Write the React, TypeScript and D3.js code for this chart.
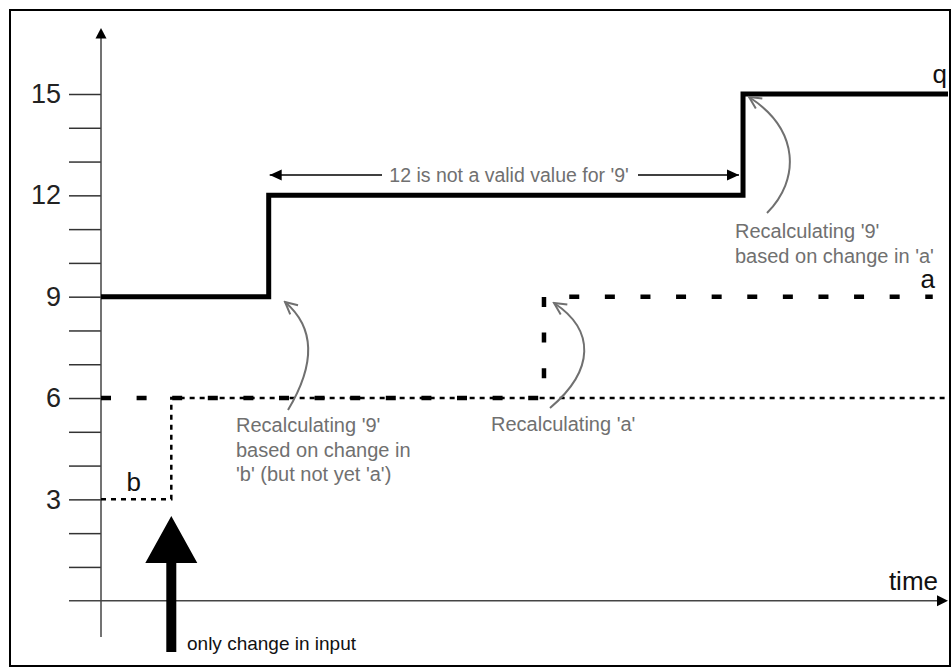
import React, { useEffect, useRef } from "react";
import * as d3 from "d3";

// ---- data ----
const qTimes = [0, 19.8, 75.8, 100];
const qValues = [9, 12, 15, 15];
const aTimes = [0, 52.3, 98.2];
const aValues = [6, 9, 9];
const bTimes = [0, 8.3, 99.6];
const bValues = [3, 6, 6];
const yTickValues = d3.range(1, 16);
const yLabelValues = [3, 6, 9, 12, 15];
const inputChangeTime = 8.3;

const W = 952;
const H = 668;

export default function App() {
  const ref = useRef<SVGSVGElement | null>(null);

  useEffect(() => {
    const svg = d3.select(ref.current);
    svg.selectAll("*").remove();

    const x = d3.scaleLinear().domain([0, 100]).range([101, 948]);
    const y = d3.scaleLinear().domain([0, 15]).range([600.7, 94]);

    const defs = svg.append("defs");
    defs
      .append("marker")
      .attr("id", "chev")
      .attr("viewBox", "-14 -8 16 16")
      .attr("refX", 0)
      .attr("refY", 0)
      .attr("markerWidth", 16)
      .attr("markerHeight", 16)
      .attr("markerUnits", "userSpaceOnUse")
      .attr("orient", "auto")
      .append("path")
      .attr("d", "M-12,-6 L0,0 L-12,6")
      .attr("fill", "none")
      .attr("stroke", "#707070")
      .attr("stroke-width", 2);
    defs
      .append("marker")
      .attr("id", "tri")
      .attr("viewBox", "-13 -6 14 12")
      .attr("refX", 0)
      .attr("refY", 0)
      .attr("markerWidth", 14)
      .attr("markerHeight", 12)
      .attr("markerUnits", "userSpaceOnUse")
      .attr("orient", "auto-start-reverse")
      .append("path")
      .attr("d", "M-12,-5.5 L0,0 L-12,5.5 Z")
      .attr("fill", "#000");

    // border
    svg
      .append("rect")
      .attr("x", 10)
      .attr("y", 10)
      .attr("width", 940)
      .attr("height", 656)
      .attr("fill", "none")
      .attr("stroke", "#000")
      .attr("stroke-width", 2);

    // y axis ticks
    const yAxis = d3
      .axisLeft(y)
      .tickValues(yTickValues)
      .tickSize(32)
      .tickPadding(8)
      .tickFormat((d) => (yLabelValues.includes(d as number) ? String(d) : ""));
    const gy = svg.append("g").attr("transform", `translate(${x(0)},0)`).call(yAxis);
    gy.select(".domain").remove();
    gy.selectAll(".tick line").attr("stroke", "#333").attr("stroke-width", 1.5);
    gy.selectAll(".tick text")
      .attr("font-family", "Liberation Sans, Arial, sans-serif")
      .attr("font-size", 27)
      .attr("fill", "#222");

    // y axis line + arrow
    svg
      .append("line")
      .attr("x1", x(0))
      .attr("x2", x(0))
      .attr("y1", 637)
      .attr("y2", 36)
      .attr("stroke", "#444")
      .attr("stroke-width", 1.5);
    svg
      .append("path")
      .attr("d", `M${x(0)},28 L${x(0) - 5.5},38.5 L${x(0) + 5.5},38.5 Z`)
      .attr("fill", "#000");

    // x axis line + arrow
    svg
      .append("line")
      .attr("x1", 69)
      .attr("x2", 940)
      .attr("y1", y(0))
      .attr("y2", y(0))
      .attr("stroke", "#444")
      .attr("stroke-width", 1.5);
    svg
      .append("path")
      .attr("d", `M948,${y(0)} L937,${y(0) - 5.5} L937,${y(0) + 5.5} Z`)
      .attr("fill", "#000");

    const font = "Liberation Sans, Arial, sans-serif";
    svg
      .append("text")
      .attr("x", 938)
      .attr("y", 590)
      .attr("text-anchor", "end")
      .attr("font-family", font)
      .attr("font-size", 26)
      .attr("fill", "#111")
      .text("time");

    const line = (xs: number[], vs: number[]) =>
      d3
        .line<number>()
        .x((_, i) => x(xs[i]))
        .y((d) => y(d))
        .curve(d3.curveStepAfter)(vs);

    // b dotted
    svg
      .append("path")
      .attr("d", line(bTimes, bValues))
      .attr("fill", "none")
      .attr("stroke", "#000")
      .attr("stroke-width", 2.5)
      .attr("stroke-dasharray", "5,5");
    // a dashed
    svg
      .append("path")
      .attr("d", line(aTimes, aValues))
      .attr("fill", "none")
      .attr("stroke", "#000")
      .attr("stroke-width", 4.5)
      .attr("stroke-dasharray", "10,25.6");
    // q solid
    svg
      .append("path")
      .attr("d", line(qTimes, qValues))
      .attr("fill", "none")
      .attr("stroke", "#000")
      .attr("stroke-width", 5);

    // series labels
    const lab = (tx: number, ty: number, t: string) =>
      svg
        .append("text")
        .attr("x", tx)
        .attr("y", ty)
        .attr("text-anchor", "end")
        .attr("font-family", font)
        .attr("font-size", 26)
        .attr("fill", "#111")
        .text(t);
    lab(947, 83, "q");
    lab(935, 288, "a");
    lab(141, 491, "b");

    // big input arrow
    const ax = x(inputChangeTime);
    svg
      .append("path")
      .attr(
        "d",
        `M${ax},516 L${ax + 26},563 L${ax + 5},563 L${ax + 5},652 L${ax - 5},652 L${ax - 5},563 L${ax - 26},563 Z`
      )
      .attr("fill", "#000");
    svg
      .append("text")
      .attr("x", 187)
      .attr("y", 650)
      .attr("font-family", font)
      .attr("font-size", 19)
      .attr("fill", "#111")
      .text("only change in input");

    // double arrow annotation
    const gray = "#707070";
    const ay = 175;
    svg
      .append("line")
      .attr("x1", x(qTimes[1]) + 1)
      .attr("x2", 382)
      .attr("y1", ay)
      .attr("y2", ay)
      .attr("stroke", "#000")
      .attr("stroke-width", 1.5)
      .attr("marker-start", "url(#tri)");
    svg
      .append("line")
      .attr("x1", 638)
      .attr("x2", x(qTimes[2]) - 4)
      .attr("y1", ay)
      .attr("y2", ay)
      .attr("stroke", "#000")
      .attr("stroke-width", 1.5)
      .attr("marker-end", "url(#tri)");
    svg
      .append("text")
      .attr("x", 509)
      .attr("y", ay + 7)
      .attr("text-anchor", "middle")
      .attr("font-family", font)
      .attr("font-size", 19.5)
      .attr("fill", gray)
      .text("12 is not a valid value for '9'");

    // curved arrows
    const curves = [
      "M288,410 C318,360 312,325 285,302",
      "M550,408 C595,370 595,330 554,303",
      "M767,213 C800,180 800,130 749,97",
    ];
    curves.forEach((d) =>
      svg
        .append("path")
        .attr("d", d)
        .attr("fill", "none")
        .attr("stroke", gray)
        .attr("stroke-width", 2)
        .attr("marker-end", "url(#chev)")
    );

    const multi = (tx: number, ty: number, lines: string[]) => {
      const t = svg
        .append("text")
        .attr("font-family", font)
        .attr("font-size", 20)
        .attr("fill", gray);
      lines.forEach((l, i) =>
        t.append("tspan").attr("x", tx).attr("y", ty + i * 24.5).text(l)
      );
    };
    multi(236, 432, ["Recalculating '9'", "based on change in", "'b' (but not yet 'a')"]);
    multi(491, 431, ["Recalculating 'a'"]);
    multi(735, 238, ["Recalculating '9'", "based on change in 'a'"]);
  }, []);

  return (
    <svg
      ref={ref}
      width={W}
      height={H}
      style={{ position: "absolute", left: 0, top: 0, background: "#fff" }}
    />
  );
}
